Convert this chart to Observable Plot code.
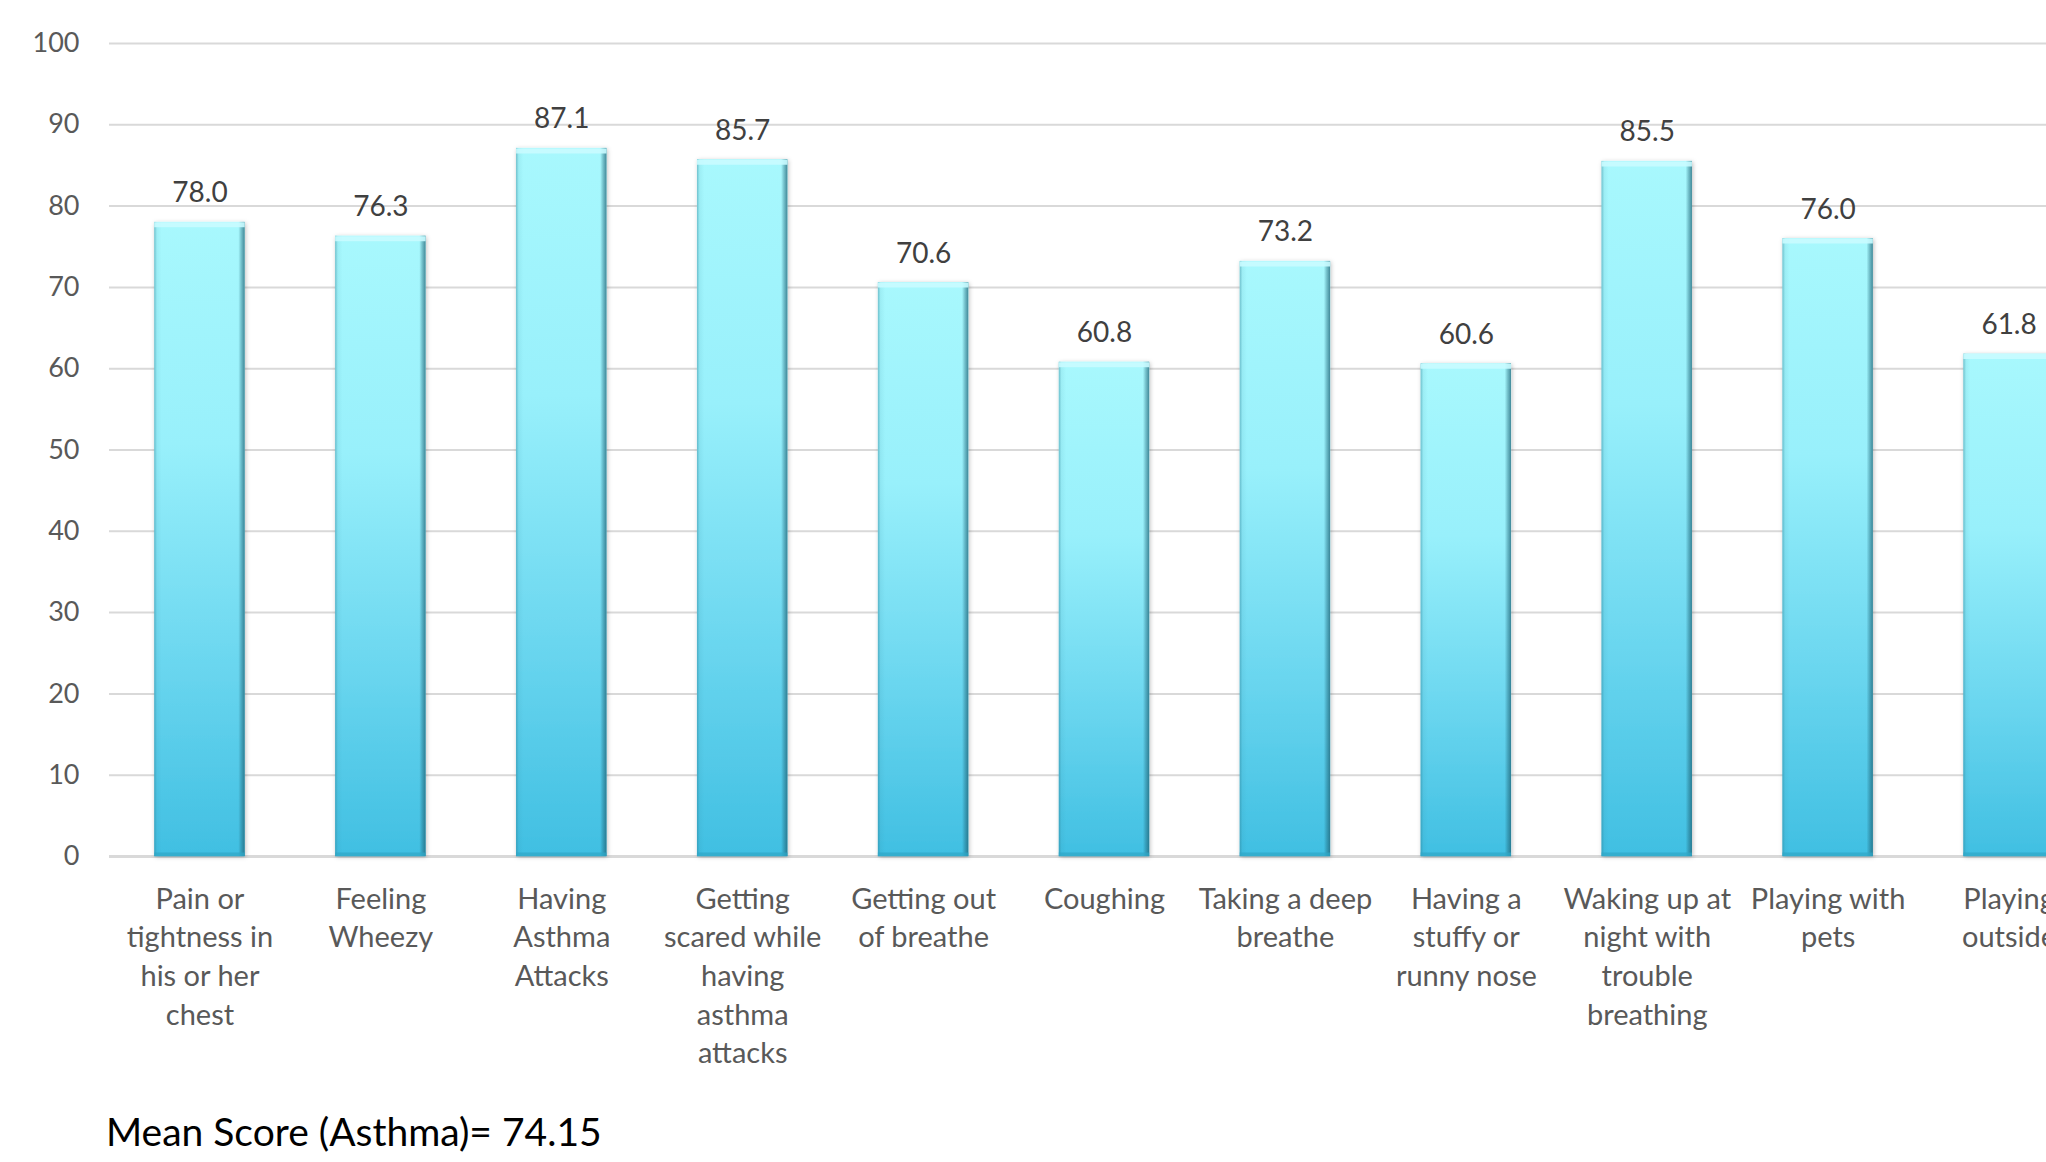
<!DOCTYPE html>
<html>
<head>
<meta charset="utf-8">
<script src="https://cdn.jsdelivr.net/npm/d3@7"></script>
<script src="https://cdn.jsdelivr.net/npm/@observablehq/plot@0.6"></script>
<style>
  html, body { margin: 0; padding: 0; background: #ffffff; overflow: hidden; width: 2046px; height: 1162px; }
  #chart { width: 2046px; overflow: hidden; }
  #chart svg { display: block; max-width: none !important; width: 2099px !important; height: 1098px !important; }
  #caption { font-family: Lato, "Open Sans", sans-serif; font-size: 39px; line-height: 40px; color: #000; padding-left: 106px; margin-top: 13px; white-space: nowrap; }
</style>
</head>
<body>
<div id="chart"></div>
<div id="caption"></div>
<script>
// ---- data ----
const categories = [
  "Pain or tightness in his or her chest",
  "Feeling Wheezy",
  "Having Asthma Attacks",
  "Getting scared while having asthma attacks",
  "Getting out of breathe",
  "Coughing",
  "Taking a deep breathe",
  "Having a stuffy or runny nose",
  "Waking up at night with trouble breathing",
  "Playing with pets",
  "Playing outside"
];
const tickLabels = [
  "Pain or\ntightness in\nhis or her\nchest",
  "Feeling\nWheezy",
  "Having\nAsthma\nAttacks",
  "Getting\nscared while\nhaving\nasthma\nattacks",
  "Getting out\nof breathe",
  "Coughing",
  "Taking a deep\nbreathe",
  "Having a\nstuffy or\nrunny nose",
  "Waking up at\nnight with\ntrouble\nbreathing",
  "Playing with\npets",
  "Playing\noutside"
];
const values = [78.0, 76.3, 87.1, 85.7, 70.6, 60.8, 73.2, 60.6, 85.5, 76.0, 61.8];
const yTicks = [0, 10, 20, 30, 40, 50, 60, 70, 80, 90, 100];
const captionText = "Mean Score (Asthma)= 74.15";

const data = categories.map((c, i) => ({cat: c, value: values[i], label: values[i].toFixed(1)}));
const labelOf = new Map(categories.map((c, i) => [c, tickLabels[i]]));

const W = 2099, H = 1098;
const plot = Plot.plot({
  width: W,
  height: H,
  marginLeft: 109,
  marginRight: 0,
  marginTop: 43,
  marginBottom: H - 856,
  style: {fontFamily: "Lato, 'Open Sans', sans-serif", fontSize: "27px", background: "#ffffff", overflow: "visible", maxWidth: "none"},
  x: {domain: categories, paddingInner: 0.5, paddingOuter: 0.25, align: 0.5, round: false},
  y: {domain: [0, 100]},
  marks: [
    Plot.gridY(yTicks, {stroke: "#d9d9d9", strokeOpacity: 1, strokeWidth: 2}),
    Plot.ruleY([0], {stroke: "#d9d9d9", strokeWidth: 3}),
    Plot.axisY(yTicks, {tickSize: 0, tickPadding: 30, fill: "#595959", fontSize: 27, label: null}),
    Plot.axisX({tickSize: 0, tickPadding: 25, fill: "#595959", fontSize: 29, lineHeight: 1.33, label: null,
      tickFormat: d => labelOf.get(d)}),
    Plot.barY(data, {x: "cat", y: "value", fill: "url(#barGrad)", className: "bars"}),
    Plot.barY(data, {x: "cat", y: "value", fill: "url(#sideGrad)"}),
    Plot.tickY(data, {x: "cat", y: "value", stroke: "#c9fbff", strokeWidth: 5, dy: 2.5, strokeOpacity: 0.9}),
    Plot.tickY(data, {x: "cat", y: 0, stroke: "#2fa6c6", strokeWidth: 4, dy: -2, strokeOpacity: 0.7}),
    Plot.text(data, {x: "cat", y: "value", text: "label", dy: -20, lineAnchor: "bottom", fill: "#404040", fontSize: 28})
  ]
});

// gradient definitions
const svg = d3.select(plot);
const defs = svg.insert("defs", ":first-child");
const g1 = defs.append("linearGradient").attr("id", "barGrad").attr("x1", 0).attr("y1", 0).attr("x2", 0).attr("y2", 1);
g1.append("stop").attr("offset", "0%").attr("stop-color", "#a8f8fd");
g1.append("stop").attr("offset", "35%").attr("stop-color", "#98f0fb");
g1.append("stop").attr("offset", "70%").attr("stop-color", "#6ad6ef");
g1.append("stop").attr("offset", "100%").attr("stop-color", "#40bfe2");
const g2 = defs.append("linearGradient").attr("id", "sideGrad").attr("x1", 0).attr("y1", 0).attr("x2", 1).attr("y2", 0);
g2.append("stop").attr("offset", "0%").attr("stop-color", "#2a7d92").attr("stop-opacity", 0.45);
g2.append("stop").attr("offset", "3%").attr("stop-color", "#2a7d92").attr("stop-opacity", 0.08);
g2.append("stop").attr("offset", "8%").attr("stop-color", "#2a7d92").attr("stop-opacity", 0);
g2.append("stop").attr("offset", "93%").attr("stop-color", "#1f6477").attr("stop-opacity", 0);
g2.append("stop").attr("offset", "96%").attr("stop-color", "#1f6477").attr("stop-opacity", 0.35);
g2.append("stop").attr("offset", "100%").attr("stop-color", "#1f6477").attr("stop-opacity", 0.75);
const f = defs.append("filter").attr("id", "barShadow").attr("x", "-10%").attr("y", "-5%").attr("width", "120%").attr("height", "110%");
f.append("feDropShadow").attr("dx", 1).attr("dy", 1).attr("stdDeviation", 2).attr("flood-color", "#000").attr("flood-opacity", 0.25);
svg.select("g.bars").attr("filter", "url(#barShadow)");

document.getElementById("chart").appendChild(plot);
document.getElementById("caption").textContent = captionText;
</script>
</body>
</html>
